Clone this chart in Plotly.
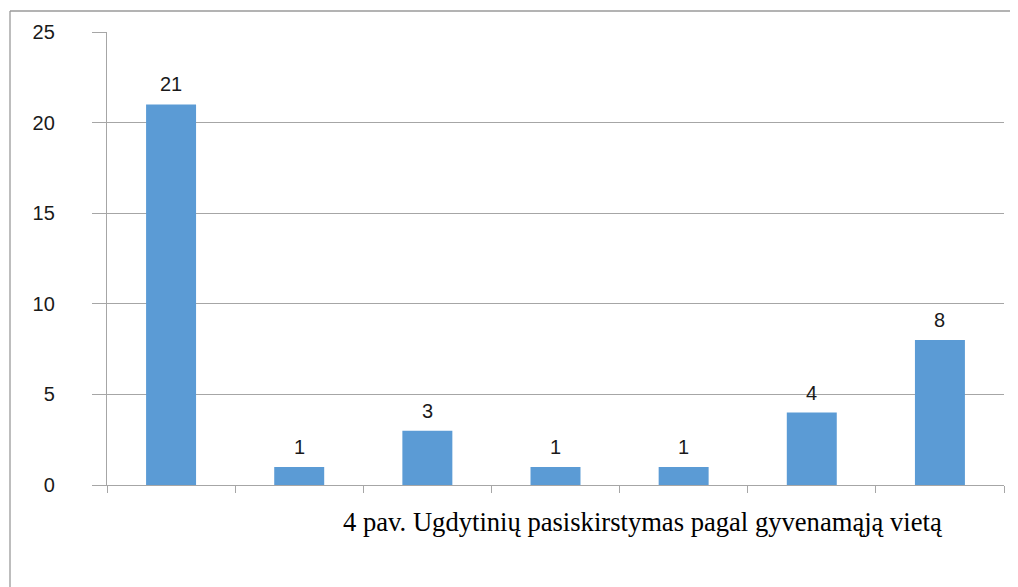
import plotly.graph_objects as go

categories = [1, 2, 3, 4, 5, 6, 7]
values = [21, 1, 3, 1, 1, 4, 8]
y_ticks = [0, 5, 10, 15, 20, 25]
caption = "4 pav. Ugdytinių pasiskirstymas pagal gyvenamąją vietą"

W, H = 1018, 587
OFF = 8  # page body margin
L, R, T, B = 107, 1004, 32, 485

fig = go.Figure()
fig.add_trace(go.Bar(
    x=categories, y=values, marker=dict(color="#5B9BD5", line=dict(width=0)),
    width=0.39, showlegend=False, hoverinfo="skip",
))

for c, v in zip(categories, values):
    fig.add_annotation(x=c, y=v, xref="x", yref="y", text=str(v), showarrow=False,
                       yanchor="bottom", yshift=7,
                       font=dict(family="Liberation Sans", size=20, color="#1a1a1a"))

fig.add_annotation(x=(341 - L) / (R - L), y=(B - 522) / (B - T), xref="paper", yref="paper",
                   xanchor="left", yanchor="middle", text=caption, showarrow=False,
                   font=dict(family="Liberation Serif", size=26.6, color="#000000"))

gray = "#a6a6a6"
# outer chart border (left and top)
fig.add_shape(type="line", xref="paper", yref="paper",
              x0=(10 - L) / (R - L), x1=(1040 - L) / (R - L),
              y0=(B - 11) / (B - T), y1=(B - 11) / (B - T),
              line=dict(color="#9a9a9a", width=1.3))
fig.add_shape(type="line", xref="paper", yref="paper",
              x0=(10 - L) / (R - L), x1=(10 - L) / (R - L),
              y0=(B - 11) / (B - T), y1=(B - 620) / (B - T),
              line=dict(color="#9a9a9a", width=1.3))

fig.update_layout(
    width=W, height=H,
    margin=dict(l=L - OFF, r=W - (R - OFF), t=T - OFF, b=H - (B - OFF), pad=0),
    paper_bgcolor="white", plot_bgcolor="white",
    font=dict(family="Liberation Sans", size=20, color="#1a1a1a"),
    xaxis=dict(range=[0.5, 7.5], tickvals=[0.5 + i for i in range(8)], showticklabels=False,
               ticks="outside", ticklen=7, tickcolor=gray, tickwidth=1.3,
               showline=True, linecolor=gray, linewidth=1.3, showgrid=False, zeroline=False),
    yaxis=dict(range=[0, 25], tickvals=y_ticks, ticktext=[str(t) for t in y_ticks],
               ticks="outside", ticklen=14, tickcolor=gray, tickwidth=1.3,
               ticklabelstandoff=33,
               showline=True, linecolor=gray, linewidth=1.3,
               showgrid=True, gridcolor=gray, gridwidth=1.3, zeroline=False,
               tickfont=dict(family="Liberation Sans", size=20, color="#1a1a1a")),
)

fig.write_html("out.html")
